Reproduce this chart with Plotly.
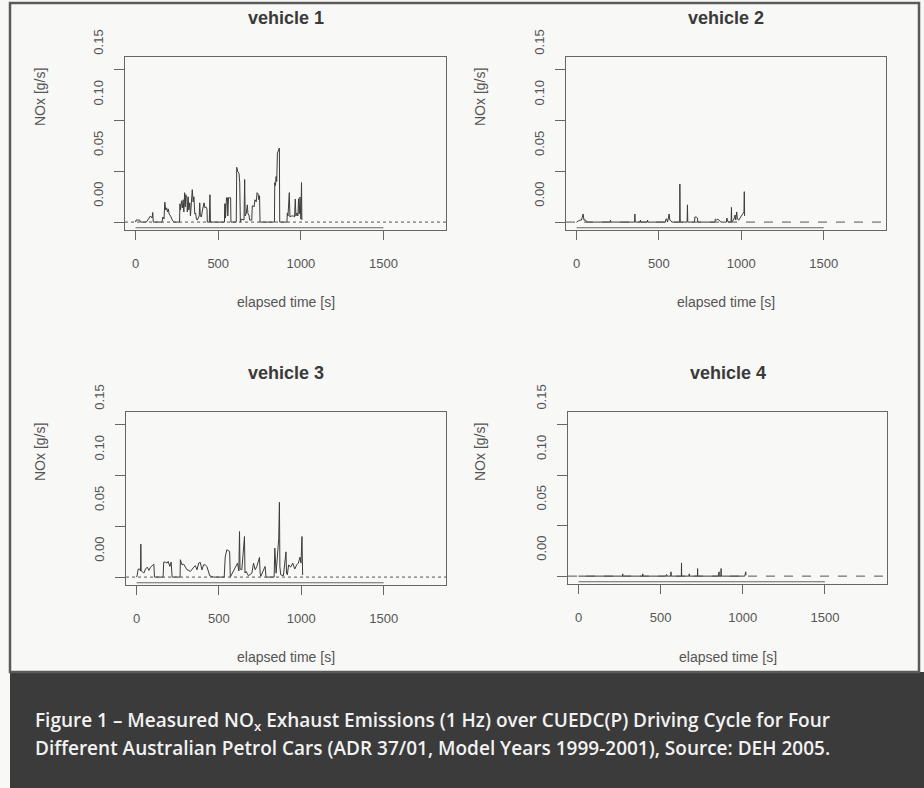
import plotly.graph_objects as go

# ---------------- data ----------------
v1_time = [0, 3, 25, 30, 65, 75, 90, 100, 104, 107, 160, 165, 172, 177, 182, 188, 193, 198, 203, 212, 222, 232,
           266, 268, 272, 278, 283, 288, 292, 297, 300, 304, 310, 313, 318, 322, 328, 332, 343, 348, 353, 358, 363,
           368, 373, 385, 388, 392, 398, 405, 414, 420, 425, 432, 434, 446, 450, 453,
           538, 539, 543, 544, 546, 548, 550, 556, 558, 562, 570, 575, 577,
           609, 612, 618, 626, 630, 634, 640, 656, 660, 663, 670, 676, 680, 686, 690, 703, 706, 712, 717, 722, 730,
           735, 741, 746, 750, 753,
           840, 842, 846, 850, 854, 858, 864, 870, 872,
           916, 918, 922, 930, 934, 942, 955, 962, 966, 970, 975, 982, 986, 990, 995, 1000, 1004, 1006]
v1_nox = [0, 0.002, 0.002, 0, 0, 0.003, 0.006, 0.004, 0.0095, 0, 0, 0.005, 0.003, 0.0197, 0.012, 0.014, 0.010,
          0.013, 0.008, 0.006, 0.002, 0,
          0, 0.018, 0.012, 0.021, 0.014, 0.022, 0.010, 0.029, 0.015, 0.027, 0.024, 0.010, 0.025, 0.012, 0.019,
          0.006, 0.032, 0.020, 0.025, 0.008, 0.009, 0.003, 0.002, 0.006, 0.019, 0.006, 0.005, 0.012, 0.019, 0.014,
          0.015, 0.013, 0, 0, 0.027, 0,
          0, 0.018, 0.018, 0.004, 0.018, 0.018, 0.024, 0.024, 0.006, 0.024, 0.024, 0.024, 0,
          0, 0.054, 0.050, 0.048, 0.039, 0, 0.003, 0.002, 0.042, 0.006, 0.009, 0.017, 0.008, 0.007, 0.002, 0.002,
          0.016, 0.016, 0.015, 0.022, 0.020, 0.029, 0.028, 0.022, 0.026, 0,
          0, 0.039, 0.036, 0.045, 0.040, 0.068, 0.070, 0.073, 0,
          0, 0.009, 0.006, 0.029, 0.005, 0.006, 0.006, 0.005, 0.0227, 0.006, 0.009, 0.006, 0.023, 0.008, 0.0247,
          0.003, 0.039, 0.002]

v2_time = [0, 10, 20, 30, 40, 45, 55, 60, 205, 206, 208, 352, 354, 356, 386, 388, 390, 429, 431, 433,
           540, 542, 548, 552, 562, 566, 575, 578, 626, 627, 629, 671, 673, 675, 716, 718, 726, 734, 736,
           840, 842, 850, 858, 866, 876, 910, 912, 920, 938, 940, 942, 955, 962, 966, 972, 976, 985, 992,
           1000, 1008, 1016, 1018, 1020]
v2_nox = [0, 0.001, 0.002, 0.002, 0.008, 0.002, 0.002, 0, 0, 0.002, 0, 0, 0.008, 0, 0, 0.002, 0, 0, 0.002, 0,
          0, 0.003, 0.003, 0, 0.008, 0.002, 0.001, 0, 0, 0.0375, 0, 0, 0.017, 0, 0, 0.005, 0.005, 0.004, 0,
          0, 0.003, 0.002, 0.003, 0.002, 0, 0, 0.004, 0, 0, 0.0145, 0, 0.003, 0.007, 0.002, 0.010, 0.003, 0.002,
          0.004, 0.006, 0.008, 0.010, 0.030, 0.006]

v3_time = [0, 4, 10, 20, 24, 26, 28, 34, 44, 54, 65, 75, 85, 95, 105, 109,
           161, 165, 175, 185, 192, 202, 210, 216,
           264, 266, 276, 286, 296, 306, 317, 327, 347, 357, 367, 377, 387, 397, 407, 417, 427, 437, 444, 468,
           532, 538, 548, 565, 569,
           613, 621, 625, 628, 639, 655, 658, 665, 679, 700, 710, 720, 730, 746, 750, 754, 780, 784, 786,
           835, 839, 847, 855, 863, 867, 870, 875, 891, 907, 910, 915, 923, 935, 948, 960, 972, 982, 992, 998,
           1004, 1008]
v3_nox = [0, 0.002, 0.0079, 0.0079, 0.006, 0.0325, 0.006, 0.0056, 0.0039, 0.0079, 0.0098, 0.0066, 0.0098,
          0.0112, 0.0128, 0,
          0, 0.0148, 0.0148, 0.0138, 0.0154, 0.0105, 0.0148, 0,
          0, 0.0171, 0.0121, 0.0128, 0.0098, 0.0072, 0.0066, 0.0056, 0.0098, 0.0112, 0.0072, 0.0138, 0.0144,
          0.0072, 0.0121, 0.0121, 0.0105, 0.0039, 0.0013, 0,
          0, 0.0197, 0.0269, 0.0253, 0,
          0.0138, 0.006, 0.0449, 0.008, 0.0072, 0.040, 0.004, 0.0056, 0.0013, 0.0039, 0.0138, 0.0072, 0.0105,
          0.0194, 0.004, 0.0007, 0.0105, 0.002, 0,
          0, 0.0285, 0.0039, 0.0269, 0.0384, 0.0738, 0.01, 0.0023, 0.0013, 0.0249, 0.004, 0.0023, 0.0121,
          0.0098, 0.0138, 0.0079, 0.0121, 0.0138, 0.0197, 0.0138, 0.040, 0.002]

v4_time = [0, 268, 269, 270, 390, 391, 392, 530, 536, 540, 562, 563, 564, 626, 627, 628, 673, 674, 675,
           724, 725, 726, 850, 856, 857, 867, 868, 869, 1012, 1016, 1018, 1020]
v4_nox = [0, 0, 0.0023, 0, 0, 0.0023, 0, 0, 0.0016, 0, 0, 0.0043, 0, 0, 0.0131, 0, 0, 0.0023, 0,
          0, 0.0075, 0, 0, 0.0043, 0, 0, 0.0075, 0, 0, 0.003, 0.0043, 0.001]

vehicle_names = ["vehicle 1", "vehicle 2", "vehicle 3", "vehicle 4"]
y_tick_vals = [0, 0.05, 0.10, 0.15]
y_tick_text = ["0.00", "0.05", "0.10", "0.15"]
x_tick_vals = [0, 500, 1000, 1500]
x_tick_text = ["0", "500", "1000", "1500"]
y_title = "NOx [g/s]"
x_title = "elapsed time [s]"
caption_line1 = "Figure 1 – Measured NO<sub>x</sub> Exhaust Emissions (1 Hz) over CUEDC(P) Driving Cycle for Four"
caption_line2 = "Different Australian Petrol Cars (ADR 37/01, Model Years 1999-2001), Source: DEH 2005."

series = [(v1_time, v1_nox), (v2_time, v2_nox), (v3_time, v3_nox), (v4_time, v4_nox)]

# ---------------- layout geometry (pixels) ----------------
W, H = 924, 788


def fx(p):
    return p / W


def fy(p):
    return 1 - p / H


# box: left, right, top, bottom ; y title x ; title y ; x title y
panels = [
    dict(box=(125, 446, 57, 230), ytx=40, ytitle_y=97, title_y=18, xtitle_y=302, dash="dot"),
    dict(box=(566, 886, 57, 230), ytx=480, ytitle_y=97, title_y=18, xtitle_y=302, dash="dash"),
    dict(box=(126, 446, 412, 585), ytx=40, ytitle_y=452, title_y=373, xtitle_y=657, dash="dot"),
    dict(box=(568, 887, 412, 584), ytx=480, ytitle_y=452, title_y=373, xtitle_y=657, dash="dash"),
]

BG = "#f8f8f6"
AX = "#666666"
TXT = "#555555"
FONT = "Liberation Sans, Arial, sans-serif"

fig = go.Figure()
shapes = []
annotations = []

for i, ((t, v), p) in enumerate(zip(series, panels)):
    n = "" if i == 0 else str(i + 1)
    xa, ya = "x" + n, "y" + n
    l, r, tp, b = p["box"]
    fig.add_trace(go.Scatter(x=t, y=v, mode="lines", xaxis=xa, yaxis=ya,
                             line=dict(color="#3c3c3c", width=1), showlegend=False,
                             hoverinfo="skip"))
    common = dict(showgrid=False, zeroline=False, showline=True, linecolor=AX, linewidth=1,
                  mirror=True, ticks="outside", tickcolor=AX, tickwidth=1, automargin=False,
                  tickfont=dict(family=FONT, size=13, color=TXT))
    fig.layout["xaxis" + n] = dict(
        domain=[fx(l), fx(r)], anchor=ya, range=[-64, 1878],
        tickvals=x_tick_vals, ticktext=x_tick_text, ticklen=9, ticklabelstandoff=12, **common)
    fig.layout["yaxis" + n] = dict(
        domain=[fy(b), fy(tp)], anchor=xa, range=[-0.0078, 0.1628],
        tickvals=y_tick_vals, ticktext=y_tick_text, ticklen=10, tickangle=-90,
        ticklabelshift=-26, ticklabelstandoff=6, **common)
    # R-style detached axis segment from first to last tick
    shapes.append(dict(type="line", xref=xa, yref=ya + " domain", x0=0, x1=1500, y0=0.013, y1=0.013,
                       line=dict(color=AX, width=1.2)))
    # dotted zero reference line
    shapes.append(dict(type="line", xref=xa + " domain", yref=ya, x0=0, x1=1, y0=0, y1=0,
                       line=dict(color="#555555", width=1, dash=p["dash"])))
    annotations.append(dict(text="<b>" + vehicle_names[i] + "</b>", xref="paper", yref="paper",
                            x=fx((l + r) / 2), y=fy(p["title_y"]), xanchor="center", yanchor="middle",
                            showarrow=False, font=dict(family=FONT, size=18, color="#3a3a3a")))
    annotations.append(dict(text=x_title, xref="paper", yref="paper",
                            x=fx((l + r) / 2), y=fy(p["xtitle_y"]), xanchor="center", yanchor="middle",
                            showarrow=False, font=dict(family=FONT, size=14, color=TXT)))
    annotations.append(dict(text=y_title, xref="paper", yref="paper", textangle=-90,
                            x=fx(p["ytx"]), y=fy(p["ytitle_y"]), xanchor="center", yanchor="middle",
                            showarrow=False, font=dict(family=FONT, size=14, color=TXT)))

# outer frame and caption band
shapes.append(dict(type="rect", xref="paper", yref="paper", x0=fx(10), x1=fx(924), y0=0, y1=fy(672),
                   fillcolor="#3b3b3b", line=dict(width=0), layer="below"))
shapes.append(dict(type="rect", xref="paper", yref="paper", x0=fx(10), x1=fx(919), y0=fy(672), y1=fy(3),
                   line=dict(color="#5a5a5a", width=2.5), fillcolor="rgba(0,0,0,0)"))

for txt, yy in [(caption_line1, 721), (caption_line2, 748)]:
    annotations.append(dict(text=txt, xref="paper", yref="paper", x=fx(33), y=fy(yy),
                            xanchor="left", yanchor="middle", showarrow=False, align="left",
                            font=dict(family="Open Sans, Noto Sans, sans-serif", size=19,
                                      color="#f2f2f2", weight=600)))

fig.update_layout(width=W, height=H, margin=dict(l=0, r=0, t=0, b=0, pad=0, autoexpand=False),
                  paper_bgcolor=BG, plot_bgcolor=BG, shapes=shapes, annotations=annotations,
                  showlegend=False)

fig.write_html("out.html", config={"displayModeBar": False},
               post_script="document.body.style.margin='0';document.body.style.overflow='hidden';")
